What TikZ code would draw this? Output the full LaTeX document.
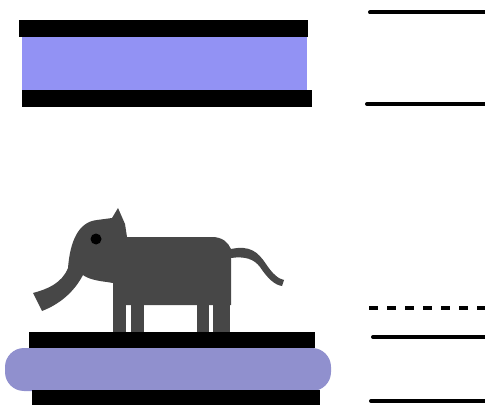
\documentclass[tikz,border=0pt]{standalone}
\begin{document}
\begin{tikzpicture}[x=1pt,y=-1pt,
  bar/.style={fill=black},
  rule/.style={line width=4pt,line cap=round},
  dashrule/.style={line width=4pt,dash pattern=on 9pt off 9pt},
  eleph/.style={fill=black!72}]
\definecolor{layerblue}{RGB}{146,146,244}
\definecolor{cushion}{RGB}{144,144,206}
\useasboundingbox (0,0) rectangle (485,409);

% upper stack: two plates with a filled layer between
\fill[layerblue] (22,37) rectangle (307,90);
\fill[bar] (19,20) rectangle (308,37);
\fill[bar] (22,90) rectangle (312,107);

% lower stack: plates around a rounded cushion
\fill[cushion,rounded corners=19pt] (5,348) rectangle (331,391);
\fill[bar] (29,332) rectangle (315,348);
\fill[bar] (32,390) rectangle (320,405);

% reference lines on the right
\draw[rule] (370,12.5) -- (487,12.5);
\draw[rule] (367,104) -- (487,104);
\draw[dashrule] (369,308) -- (487,308);
\draw[rule] (373,337) -- (487,337);
\draw[rule] (371,401) -- (487,401);

% elephant standing on the lower stack
\fill[eleph] (118,208) -- (125,224) -- (127,237) -- (212,237)
  .. controls (222,237) and (228,242) .. (231,249)
  .. controls (250,245) and (258,252) .. (266,264)
  .. controls (272,273) and (278,279) .. (284,280)
  -- (282,286)
  .. controls (275,285) and (268,279) .. (260,267)
  .. controls (254,259) and (245,256) .. (231,258)
  -- (231,305) -- (113,305) -- (113,283) -- (107,282)
  .. controls (98,281) and (88,279) .. (83,275)
  .. controls (74,292) and (60,304) .. (42,311)
  -- (33,293)
  .. controls (48,289) and (62,283) .. (68,268)
  .. controls (70,242) and (78,222) .. (97,220)
  -- (112,218) -- cycle;
\fill[eleph] (113,303) rectangle (126,332);
\fill[eleph] (131,303) rectangle (144,332);
\fill[eleph] (197,303) rectangle (209,332);
\fill[eleph] (213,303) rectangle (230,332);
\fill[black] (96,239) circle (5.5);
\end{tikzpicture}
\end{document}
